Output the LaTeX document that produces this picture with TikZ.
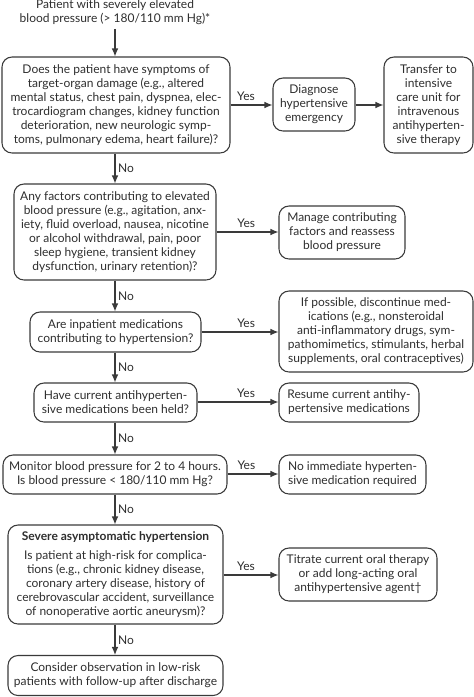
\documentclass[tikz,border=0pt]{standalone}
\usepackage{fontspec}
\setmainfont{Lato}
\usetikzlibrary{arrows.meta}
\definecolor{ink}{HTML}{2E2E2E}
\definecolor{edge}{HTML}{3A3A3A}
\begin{document}
\begin{tikzpicture}[x=0.75pt,y=-0.75pt,
  every node/.style={text=ink, font=\fontsize{9}{10.5}\selectfont, inner sep=0pt},
  box/.style={draw=edge, line width=0.8pt, rounded corners=7.5pt, align=center},
  conn/.style={draw=edge, line width=0.8pt, -{Latex[length=6pt,width=5pt]}},
  lab/.style={font=\fontsize{9}{10.5}\selectfont}
]
\useasboundingbox (0,0) rectangle (474,697);
\node[align=center] (start) at (115,12) {Patient with severely elevated\\blood pressure (> 180/110 mm Hg)*};

\node[box, minimum width=228*0.75pt, minimum height=96*0.75pt] (q1) at (116,105)
 {Does the patient have symptoms of\\target-organ damage (e.g., altered\\mental status, chest pain, dyspnea, elec-\\trocardiogram changes, kidney function\\deterioration, new neurologic symp-\\toms, pulmonary edema, heart failure)?};
\node[box, minimum width=82*0.75pt, minimum height=53*0.75pt] (diag) at (314,104.5)
 {Diagnose\\hypertensive\\emergency};
\node[box, minimum width=89*0.75pt, minimum height=96*0.75pt] (icu) at (428.5,105)
 {Transfer to\\intensive\\care unit for\\intravenous\\antihyperten-\\sive therapy};

\node[box, minimum width=202*0.75pt, minimum height=96*0.75pt] (q2) at (115,232)
 {Any factors contributing to elevated\\blood pressure (e.g., agitation, anx-\\iety, fluid overload, nausea, nicotine\\or alcohol withdrawal, pain, poor\\sleep hygiene, transient kidney\\dysfunction, urinary retention)?};
\node[box, minimum width=126*0.75pt, minimum height=53*0.75pt] (manage) at (342,232.5)
 {Manage contributing\\factors and reassess\\blood pressure};

\node[box, minimum width=171*0.75pt, minimum height=40*0.75pt] (q3) at (115.5,332)
 {Are inpatient medications\\contributing to hypertension?};
\node[box, minimum width=194*0.75pt, minimum height=81*0.75pt] (disc) at (376,331.5)
 {If possible, discontinue med-\\ications (e.g., nonsteroidal\\anti-inflammatory drugs, sym-\\pathomimetics, stimulants, herbal\\supplements, oral contraceptives)};

\node[box, minimum width=163*0.75pt, minimum height=39*0.75pt] (q4) at (115.5,402.5)
 {Have current antihyperten-\\sive medications been held?};
\node[box, minimum width=140*0.75pt, minimum height=39*0.75pt] (resume) at (349,402.5)
 {Resume current antihy-\\pertensive medications};

\node[box, minimum width=224*0.75pt, minimum height=39*0.75pt] (q5) at (115,474.5)
 {Monitor blood pressure for 2 to 4 hours.\\Is blood pressure < 180/110 mm Hg?};
\node[box, minimum width=147*0.75pt, minimum height=39*0.75pt] (noimm) at (352.5,474.5)
 {No immediate hyperten-\\sive medication required};

\node[box, minimum width=215*0.75pt, minimum height=99*0.75pt] (q6) at (115.5,574.5)
 {\textbf{Severe asymptomatic hypertension}\\[4pt]Is patient at high-risk for complica-\\tions (e.g., chronic kidney disease,\\coronary artery disease, history of\\cerebrovascular accident, surveillance\\of nonoperative aortic aneurysm)?};
\node[box, minimum width=158*0.75pt, minimum height=53*0.75pt] (titrate) at (358,574.5)
 {Titrate current oral therapy\\or add long-acting oral\\antihypertensive agent†};

\node[box, minimum width=215*0.75pt, minimum height=40*0.75pt] (q7) at (115.5,675.5)
 {Consider observation in low-risk\\patients with follow-up after discharge};

% vertical flow
\draw[conn] (start.south -| 115,0) ++(0,4) -- (q1.north -| 115,0);
\draw[conn] (q1.south -| 115,0) -- node[lab, right=2pt] {No} (q2.north -| 115,0);
\draw[conn] (q2.south -| 115,0) -- node[lab, right=2pt] {No} (q3.north -| 115,0);
\draw[conn] (q3.south -| 115,0) -- node[lab, right=2pt] {No} (q4.north -| 115,0);
\draw[conn] (q4.south -| 115,0) -- node[lab, right=2pt] {No} (q5.north -| 115,0);
\draw[conn] (q5.south -| 115,0) -- node[lab, right=2pt] {No} (q6.north -| 115,0);
\draw[conn] (q6.south -| 115,0) -- node[lab, right=2pt] {No} (q7.north -| 115,0);

% yes branches
\draw[conn] (q1.east |- 0,105) -- node[lab, above=3pt, pos=0.37] {Yes} (diag.west |- 0,105);
\draw[conn] (diag.east |- 0,105) -- (icu.west |- 0,105);
\draw[conn] (q2.east |- 0,232) -- node[lab, above=3pt, pos=0.48] {Yes} (manage.west |- 0,232);
\draw[conn] (q3.east |- 0,332) -- node[lab, above=3pt, pos=0.58] {Yes} (disc.west |- 0,332);
\draw[conn] (q4.east |- 0,402) -- node[lab, above=3pt, pos=0.6] {Yes} (resume.west |- 0,402);
\draw[conn] (q5.east |- 0,474) -- node[lab, above=3pt, pos=0.37] {Yes} (noimm.west |- 0,474);
\draw[conn] (q6.east |- 0,575) -- node[lab, above=3pt, pos=0.41] {Yes} (titrate.west |- 0,575);
\end{tikzpicture}
\end{document}
